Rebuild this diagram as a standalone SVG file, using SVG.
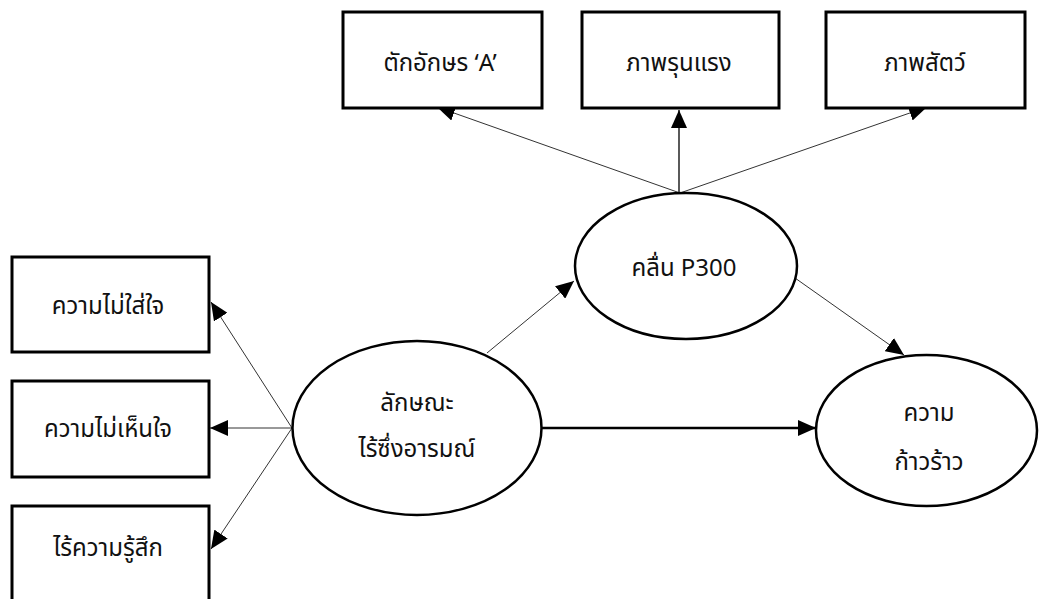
<svg xmlns="http://www.w3.org/2000/svg" width="1040" height="599" viewBox="0 0 1040 599">
<style>
.box{fill:#fff;stroke:#000;stroke-width:3}
.ell{fill:#fff;stroke:#000;stroke-width:2.5}
.t{font-family:"Noto Sans Thai","Noto Sans","DejaVu Sans",sans-serif;font-size:24px;fill:#111;text-anchor:middle}
.thin{stroke:#333;stroke-width:1;fill:none}
.mid{stroke:#000;stroke-width:1.3;fill:none}
.thick{stroke:#000;stroke-width:2.5;fill:none}
</style>
<defs>
<marker id="ah" markerWidth="18" markerHeight="16" refX="18" refY="8" orient="auto" markerUnits="userSpaceOnUse"><path d="M0,0 L18,8 L0,16 z" fill="#000"/></marker>
</defs>
<rect width="1040" height="599" fill="#fff"/>
<g id="connectors">
<line class="thin" x1="680" y1="193" x2="437" y2="107" marker-end="url(#ah)"/>
<line class="mid" x1="679" y1="193" x2="679" y2="110" marker-end="url(#ah)"/>
<line class="thin" x1="680" y1="193" x2="927" y2="107" marker-end="url(#ah)"/>
<line class="thin" x1="292" y1="428" x2="211" y2="302" marker-end="url(#ah)"/>
<line class="thin" x1="292" y1="428" x2="210" y2="428" marker-end="url(#ah)"/>
<line class="thin" x1="292" y1="428" x2="211" y2="549" marker-end="url(#ah)"/>
<line class="thin" x1="487" y1="353" x2="574" y2="281" marker-end="url(#ah)"/>
<line class="thin" x1="795" y1="278" x2="904" y2="355" marker-end="url(#ah)"/>
<line class="thick" x1="542" y1="428" x2="816" y2="428" marker-end="url(#ah)"/>
</g>
<g id="n_letter"><rect class="box" x="343" y="12" width="199" height="96"/><text class="t" x="440" y="71">ตักอักษร ‘A’</text></g>
<g id="n_violent"><rect class="box" x="582" y="12" width="197" height="96"/><text class="t" x="679" y="71">ภาพรุนแรง</text></g>
<g id="n_animal"><rect class="box" x="826" y="12" width="199" height="96"/><text class="t" x="925" y="71">ภาพสัตว์</text></g>
<g id="n_uncaring"><rect class="box" x="12" y="257" width="197" height="95"/><text class="t" x="108" y="314">ความไม่ใส่ใจ</text></g>
<g id="n_callous"><rect class="box" x="12" y="381" width="197" height="96"/><text class="t" x="108" y="437">ความไม่เห็นใจ</text></g>
<g id="n_unemotional"><rect class="box" x="12" y="506" width="197" height="120"/><text class="t" x="108" y="556">ไร้ความรู้สึก</text></g>
<g id="n_cu"><ellipse class="ell" cx="417" cy="428" rx="124.5" ry="87"/><text class="t" x="417" y="411">ลักษณะ</text><text class="t" x="417" y="457">ไร้ซึ่งอารมณ์</text></g>
<g id="n_p300"><ellipse class="ell" cx="686" cy="266" rx="111" ry="73"/><text class="t" x="684" y="276">คลื่น P300</text></g>
<g id="n_aggr"><ellipse class="ell" cx="926.5" cy="430.5" rx="110.5" ry="75.5"/><text class="t" x="929" y="421">ความ</text><text class="t" x="929" y="470">ก้าวร้าว</text></g>
</svg>
